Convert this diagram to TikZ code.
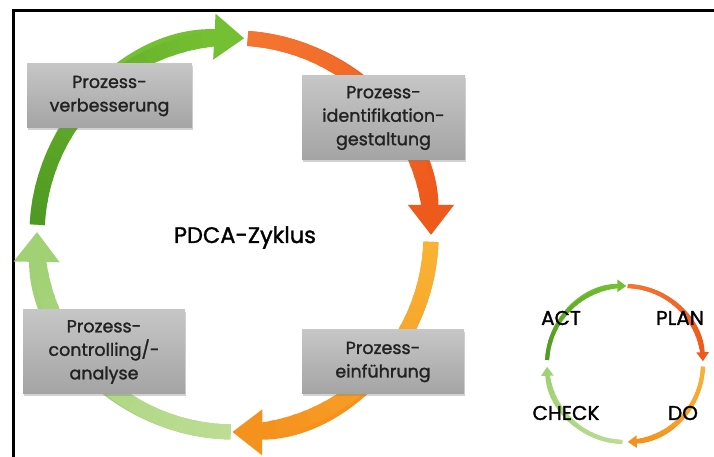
\documentclass[tikz,border=0pt]{standalone}
\usepackage{fontspec}
\setmainfont{Poppins}
\newfontfamily\medfont{Poppins}[FakeBold=1.4]
\usetikzlibrary{arrows.meta,shadows}
\definecolor{grnA}{HTML}{4F9A22}
\definecolor{grnB}{HTML}{74BF32}
\definecolor{redA}{HTML}{F47530}
\definecolor{redB}{HTML}{EE5A1C}
\definecolor{orgA}{HTML}{F9B233}
\definecolor{orgB}{HTML}{F5921E}
\definecolor{lgrA}{HTML}{BCDD93}
\definecolor{lgrB}{HTML}{A2D175}
\definecolor{boxtop}{HTML}{C6C6C6}
\definecolor{boxbot}{HTML}{A4A4A4}
\definecolor{boxtext}{HTML}{222222}
\tikzset{
  procbox/.style={rectangle, draw=none, top color=boxtop, bottom color=boxbot,
    align=center, text=boxtext, font=\medfont\fontsize{17.5}{23.5}\selectfont, inner sep=0pt,
    drop shadow={opacity=0.35, shadow xshift=1pt, shadow yshift=-2pt}},
  cyclelabel/.style={font=\medfont\fontsize{20}{20}\selectfont, text=black, inner sep=0pt},
  titletext/.style={font=\medfont\fontsize{22.5}{22.5}\selectfont, text=black, inner sep=0pt, anchor=base},
}
% #1 centre, #2 radius, #3 start, #4 end, #5 body end, #6 start colour, #7 end colour, #8 line width, #9 head
\newcommand\gradarc[9]{%
  \draw[line width=#8, color=#7, -{Triangle[#9]}] (#1) ++(#3:#2) arc[start angle=#3, end angle=#4, radius=#2];
  \foreach \k in {0,...,23}{%
    \pgfmathsetmacro\aa{#3+(#5-#3)*\k/24}%
    \pgfmathsetmacro\bb{#3+(#5-#3)*(\k+1.3)/24}%
    \pgfmathtruncatemacro\pp{100*\k/23}%
    \draw[line width=#8, color=#7!\pp!#6] (#1) ++(\aa:#2) arc[start angle=\aa, end angle=\bb, radius=#2];
  }%
}
\begin{document}
\begin{tikzpicture}[x=1pt,y=1pt]
\useasboundingbox (0,0) rectangle (714,457);
\fill[white] (0,0) rectangle (714,457);
\draw[line width=3, line join=miter] (13,0) -- (13,446) -- (714,446);

% big cycle
\coordinate (bigc) at (234,222);
\gradarc{bigc}{197}{177}{87}{96}{grnA}{grnB}{15}{width=44pt,length=30pt}
\gradarc{bigc}{197}{86}{0}{9}{redA}{redB}{15}{width=44pt,length=30pt}
\gradarc{bigc}{197}{-2}{-90.5}{-81}{orgA}{orgB}{15}{width=44pt,length=30pt}
\gradarc{bigc}{197}{-91}{-180.9}{-171}{lgrA}{lgrB}{15}{width=44pt,length=30pt}

\node[procbox, minimum width=165, minimum height=64] (verb) at (109.5,361) {Prozess-\\verbesserung};
\node[procbox, minimum width=163, minimum height=84] (ident) at (383.5,339) {Prozess-\\identifikation-\\gestaltung};
\node[procbox, minimum width=162, minimum height=84] (contr) at (104,105) {Prozess-\\controlling/-\\analyse};
\node[procbox, minimum width=162, minimum height=64] (einf) at (383,95) {Prozess-\\einführung};

\node[titletext] (title) at (245,214) {PDCA-Zyklus};

% small cycle
\coordinate (smc) at (625,93);
\gradarc{smc}{78}{177}{89}{96}{grnA}{grnB}{4}{width=12pt,length=9pt}
\gradarc{smc}{78}{88}{2}{9}{redA}{redB}{4}{width=12pt,length=9pt}
\gradarc{smc}{78}{-2}{-88}{-81}{orgA}{orgB}{4}{width=12pt,length=9pt}
\gradarc{smc}{78}{-92}{-178}{-171}{lgrA}{lgrB}{4}{width=12pt,length=9pt}

\node[cyclelabel] (act) at (561,139) {ACT};
\node[cyclelabel] (plan) at (680,139) {PLAN};
\node[cyclelabel] (check) at (566,44) {CHECK};
\node[cyclelabel] (do) at (683,44) {DO};
\end{tikzpicture}
\end{document}
